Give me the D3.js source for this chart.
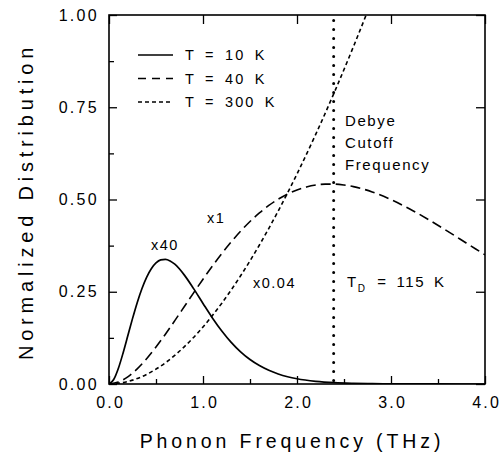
<!DOCTYPE html>
<html>
<head>
<meta charset="utf-8">
<script src="https://cdn.jsdelivr.net/npm/d3@7"></script>
<style>
  html, body { margin: 0; padding: 0; background: #fff; }
  svg { display: block; }
  text { font-family: "Liberation Sans", Arial, Helvetica, sans-serif; fill: #000; }
</style>
</head>
<body>
<svg id="chart" width="503" height="459"></svg>
<script>
// Phonon frequency grids (THz) and normalized distributions for each temperature
const nu10 = [0, 0.05, 0.1, 0.15, 0.2, 0.25, 0.3, 0.35, 0.4, 0.45, 0.5, 0.55, 0.6, 0.65, 0.7, 0.8, 0.9, 1.0, 1.1, 1.2, 1.3, 1.4, 1.5, 1.6, 1.7, 1.8, 1.9, 2.0, 2.2, 2.4, 2.6, 2.8, 3.0, 3.5, 4.0];
const dist10 = [0, 0.0121, 0.0427, 0.0842, 0.1305, 0.1771, 0.2205, 0.2583, 0.2891, 0.3124, 0.3280, 0.3363, 0.3378, 0.3336, 0.3246, 0.2957, 0.2584, 0.2183, 0.1791, 0.1437, 0.1129, 0.0872, 0.0663, 0.0499, 0.0370, 0.0272, 0.0197, 0.0142, 0.0073, 0.0036, 0.0018, 0.0008, 0.0004, 0.0001, 0.0];

const nu40 = [0, 0.1, 0.2, 0.3, 0.4, 0.5, 0.6, 0.7, 0.8, 0.9, 1.0, 1.1, 1.2, 1.3, 1.4, 1.5, 1.6, 1.7, 1.8, 1.9, 2.0, 2.1, 2.2, 2.3, 2.4, 2.5, 2.6, 2.8, 3.0, 3.2, 3.4, 3.6, 3.8, 4.0];
const dist40 = [0, 0.0052, 0.0194, 0.0411, 0.0684, 0.1002, 0.1350, 0.1717, 0.2093, 0.2470, 0.2840, 0.3197, 0.3535, 0.3851, 0.4141, 0.4404, 0.4636, 0.4838, 0.5009, 0.5149, 0.5259, 0.5339, 0.5392, 0.5417, 0.5417, 0.5394, 0.5349, 0.5205, 0.4997, 0.4742, 0.4454, 0.4144, 0.3822, 0.3500];

const nu300 = [0, 0.2, 0.4, 0.6, 0.8, 1.0, 1.2, 1.4, 1.6, 1.8, 2.0, 2.2, 2.4, 2.6, 2.8, 3.0];
const dist300 = [0, 0.0066, 0.0260, 0.0575, 0.1006, 0.1546, 0.2190, 0.2932, 0.3767, 0.4688, 0.5691, 0.6770, 0.7922, 0.9140, 1.0420, 1.1757];

const seriesLabels = ["T = 10 K", "T = 40 K", "T = 300 K"];
const scaleLabels = ["x40", "x1", "x0.04"];
const debyeFreq = 2.39;   // THz, cutoff for T_D = 115 K

const xTicks = [0, 1, 2, 3, 4];
const xMinorTicks = [0.5, 1.5, 2.5, 3.5];
const yTicks = [0, 0.25, 0.5, 0.75, 1.0];
const yMinorTicks = [0.125, 0.375, 0.625, 0.875];

const svg = d3.select("#chart");
const plot = { left: 109, top: 15, right: 485, bottom: 384 };

const x = d3.scaleLinear().domain([0, 4]).range([plot.left, plot.right]);
const y = d3.scaleLinear().domain([0, 1]).range([plot.bottom, plot.top]);

svg.append("defs").append("clipPath").attr("id", "plotClip")
  .append("rect")
  .attr("x", plot.left).attr("y", plot.top)
  .attr("width", plot.right - plot.left).attr("height", plot.bottom - plot.top);

// Axes with inward ticks
const tickFont = g => g.selectAll("text")
  .style("font-size", "16px").style("letter-spacing", "2.3px").attr("fill", "#000");
const cleanDomain = g => g.select(".domain").remove();

svg.append("g").attr("transform", `translate(0,${plot.bottom})`)
  .call(d3.axisBottom(x).tickValues(xTicks).tickFormat(d3.format(".1f")).tickSize(-8).tickPadding(13))
  .call(cleanDomain).call(tickFont)
  .call(g => g.selectAll("text").attr("dx", "1.2px"));
svg.append("g").attr("transform", `translate(0,${plot.bottom})`)
  .call(d3.axisBottom(x).tickValues(xMinorTicks).tickFormat("").tickSize(-5))
  .call(cleanDomain);
svg.append("g").attr("transform", `translate(${plot.left},0)`)
  .call(d3.axisLeft(y).tickValues(yTicks).tickFormat(d3.format(".2f")).tickSize(-8).tickPadding(10))
  .call(cleanDomain).call(tickFont);
svg.append("g").attr("transform", `translate(${plot.left},0)`)
  .call(d3.axisLeft(y).tickValues(yMinorTicks).tickFormat("").tickSize(-5))
  .call(cleanDomain);
svg.append("g").attr("transform", `translate(0,${plot.top})`)
  .call(d3.axisTop(x).tickValues(xTicks).tickFormat("").tickSize(-9))
  .call(cleanDomain);
svg.append("g").attr("transform", `translate(${plot.right},0)`)
  .call(d3.axisRight(y).tickValues(yTicks).tickFormat("").tickSize(-9))
  .call(cleanDomain);
svg.selectAll(".tick line").attr("stroke", "#000").attr("stroke-width", 1.3);

// Frame
svg.append("rect")
  .attr("x", plot.left).attr("y", plot.top)
  .attr("width", plot.right - plot.left).attr("height", plot.bottom - plot.top)
  .attr("fill", "none").attr("stroke", "#000").attr("stroke-width", 1.6);

// Curves
const curves = [
  { nu: nu10, val: dist10, dash: null, width: 1.7 },
  { nu: nu40, val: dist40, dash: "10,5", width: 1.6 },
  { nu: nu300, val: dist300, dash: "4,3", width: 1.6 }
];
const line = d3.line().curve(d3.curveMonotoneX);
const curveLayer = svg.append("g").attr("clip-path", "url(#plotClip)");
curves.forEach(c => {
  const pts = c.nu.map((n, i) => [x(n), y(c.val[i])]);
  curveLayer.append("path")
    .attr("d", line(pts))
    .attr("fill", "none").attr("stroke", "#000")
    .attr("stroke-width", c.width)
    .attr("stroke-dasharray", c.dash);
});

// Debye cutoff marker
svg.append("line")
  .attr("x1", x(debyeFreq)).attr("x2", x(debyeFreq))
  .attr("y1", y(0.985)).attr("y2", y(0))
  .attr("stroke", "#000").attr("stroke-width", 3)
  .attr("stroke-linecap", "round").attr("stroke-dasharray", "0,9");

// Legend
const legend = svg.append("g");
seriesLabels.forEach((lab, i) => {
  const ly = 55 + i * 23.5;
  legend.append("line")
    .attr("x1", 138).attr("x2", 173).attr("y1", ly).attr("y2", ly)
    .attr("stroke", "#000").attr("stroke-width", curves[i].width)
    .attr("stroke-dasharray", i === 1 ? "8,6" : curves[i].dash);
  legend.append("text")
    .attr("x", 185).attr("y", ly + 5)
    .style("font-size", "14.5px").style("letter-spacing", "2px").style("word-spacing", "3.5px")
    .text(lab);
});

// Scale-factor annotations
const annot = (txt, ax, ay, size) => svg.append("text")
  .attr("x", ax).attr("y", ay)
  .style("font-size", size + "px").style("letter-spacing", "1.5px")
  .text(txt);
annot(scaleLabels[0], 151, 250, 14.5);
annot(scaleLabels[1], 207, 223, 14.5);
annot(scaleLabels[2], 253, 288, 14.5);

// Debye cutoff text
["Debye", "Cutoff", "Frequency"].forEach((t, i) => {
  svg.append("text").attr("x", 345).attr("y", 126 + i * 22)
    .style("font-size", "15px").style("letter-spacing", "1.6px").text(t);
});
const td = svg.append("text").attr("x", 347).attr("y", 287)
  .style("font-size", "15px").style("letter-spacing", "1.6px").style("word-spacing", "3px");
td.append("tspan").text("T");
td.append("tspan").attr("dy", 5).style("font-size", "10px").text("D");
td.append("tspan").attr("dy", -5).attr("dx", 2).text(" = 115 K");

// Axis titles
svg.append("text")
  .attr("x", 292).attr("y", 448)
  .attr("text-anchor", "middle")
  .style("font-size", "19.5px").style("letter-spacing", "3.9px")
  .text("Phonon Frequency (THz)");
svg.append("text")
  .attr("transform", `translate(33,${(plot.top + plot.bottom) / 2 + 2}) rotate(-90)`)
  .attr("text-anchor", "middle")
  .style("font-size", "20px").style("letter-spacing", "4.8px")
  .text("Normalized Distribution");
</script>
</body>
</html>
